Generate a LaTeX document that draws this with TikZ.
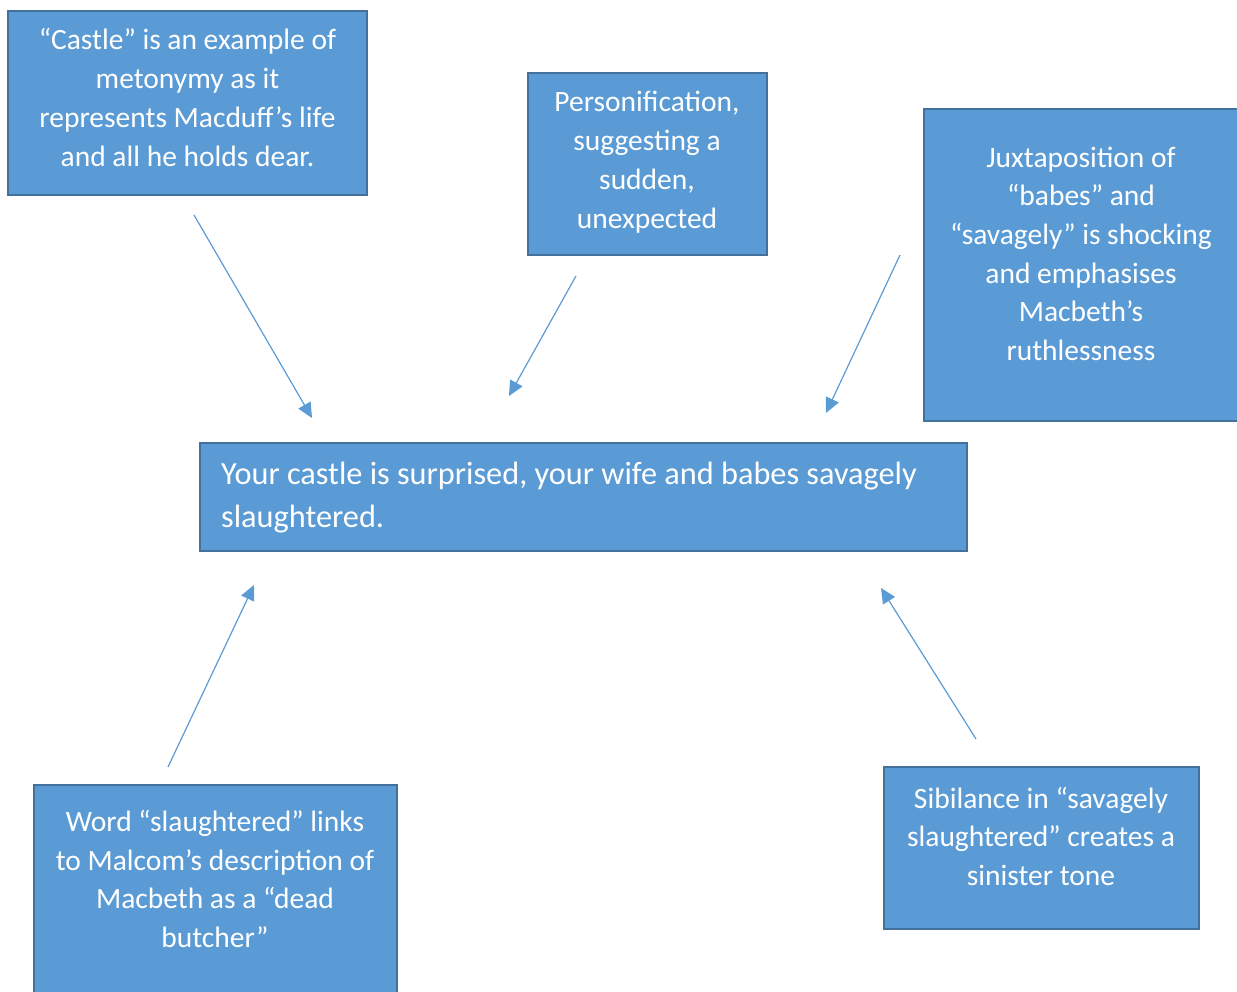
\documentclass[tikz,border=0pt]{standalone}
\usepackage{fontspec}
\setmainfont{Carlito}
\usetikzlibrary{arrows.meta}
\definecolor{boxfill}{HTML}{5B9BD5}
\definecolor{boxline}{HTML}{41719C}
\definecolor{arrowc}{HTML}{5B9BD5}
\begin{document}
\begin{tikzpicture}[x=1pt,y=-1pt,
  box/.style={draw=boxline,fill=boxfill,line width=2pt},
  txt/.style={text=white,font=\fontsize{29.5}{38.7}\selectfont,align=center,anchor=base,inner sep=0pt},
  conn/.style={draw=arrowc,line width=1.2pt,-{Triangle[length=15pt,width=14pt]}}]
\clip (0,0) rectangle (1237,991);
% boxes
\draw[box] (8,11) rectangle (367,195);
\draw[box] (528,73) rectangle (767,255);
\draw[box] (924,109) rectangle (1250,421);
\draw[box] (200,443) rectangle (967,551);
\draw[box] (34,785) rectangle (397,1000);
\draw[box] (884,767) rectangle (1199,929);
% texts (anchor = baseline of the last line)
\node[txt] (t1) at (187.5,166) {“Castle” is an example of\\metonymy as it\\represents Macduff’s life\\and all he holds dear.};
\node[txt] (t2) at (647,228) {Personification,\\suggesting a\\sudden,\\unexpected};
\node[txt] (t3) at (1081,360.5) {Juxtaposition of\\“babes” and\\“savagely” is shocking\\and emphasises\\Macbeth’s\\ruthlessness};
\node[txt,align=left,anchor=base west,font=\fontsize{32.3}{43}\selectfont] (tc) at (221,527) {Your castle is surprised, your wife and babes savagely\\slaughtered.};
\node[txt] (t5) at (215,947.5) {Word “slaughtered” links\\to Malcom’s description of\\Macbeth as a “dead\\butcher”};
\node[txt] (t6) at (1041,885.5) {Sibilance in “savagely\\slaughtered” creates a\\sinister tone};
% arrow endpoints
\coordinate (a1s) at (194,215); \coordinate (a1e) at (312,418);
\coordinate (a2s) at (576,276); \coordinate (a2e) at (509,396);
\coordinate (a3s) at (900,255); \coordinate (a3e) at (826,413);
\coordinate (a4s) at (168,767); \coordinate (a4e) at (254,585);
\coordinate (a5s) at (976,739); \coordinate (a5e) at (881,588);
\draw[conn] (a1s) -- (a1e);
\draw[conn] (a2s) -- (a2e);
\draw[conn] (a3s) -- (a3e);
\draw[conn] (a4s) -- (a4e);
\draw[conn] (a5s) -- (a5e);
\end{tikzpicture}
\end{document}
